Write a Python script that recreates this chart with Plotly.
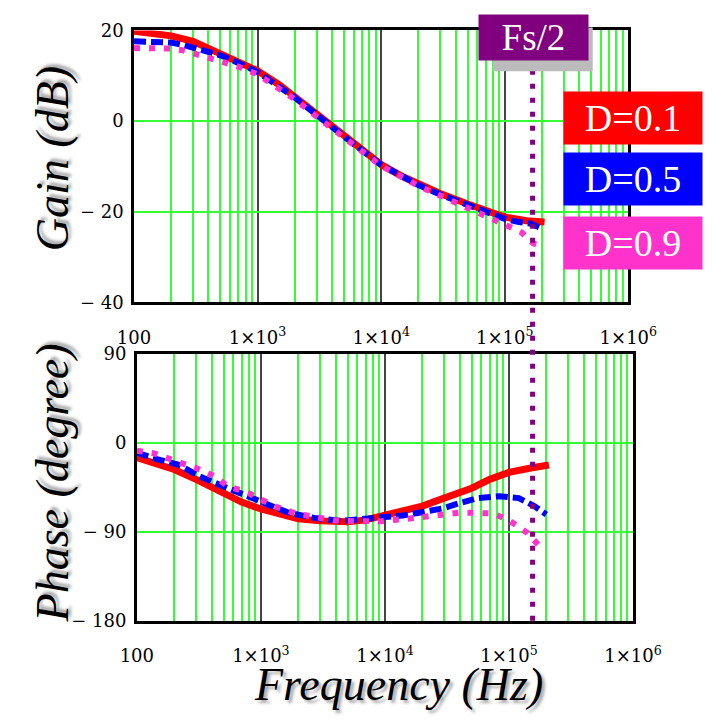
import plotly.graph_objects as go

# ---------------- data ----------------
f_gain_red = [100, 150, 200, 300, 500, 700, 1000, 1500, 2000, 3000, 5000, 7000, 10000,
              15000, 20000, 30000, 50000, 70000, 100000, 150000, 210000]
gain_red = [19.8, 19.4, 18.8, 17.6, 15.0, 13.2, 11.1, 8.0, 5.3, 1.5, -3.3, -6.5, -9.6,
            -12.3, -13.9, -16.0, -18.3, -19.8, -21.2, -22.0, -22.3]

f_gain_blue = [100, 150, 200, 250, 300, 500, 700, 1000, 2000, 3000, 5000, 10000, 20000,
               30000, 50000, 70000, 100000, 130000, 160000, 200000]
gain_blue = [17.6, 17.5, 17.3, 16.8, 16.2, 14.5, 12.8, 10.8, 5.2, 1.3, -3.4, -9.7, -14.1,
             -16.2, -18.6, -20.2, -21.6, -22.3, -22.6, -23.7]

f_gain_mag = [100, 150, 200, 250, 300, 500, 700, 1000, 2000, 3000, 5000, 10000, 20000,
              30000, 50000, 70000, 87000, 117000, 137000, 156000, 170000, 200000]
gain_mag = [16.1, 16.0, 16.0, 15.6, 15.0, 13.2, 12.0, 10.3, 4.8, 1.0, -3.6, -9.9, -14.3,
            -16.4, -19.0, -21.0, -22.2, -23.7, -24.6, -25.9, -27.0, -27.6]

f_ph_red = [100, 150, 200, 300, 500, 700, 1000, 1500, 2000, 3000, 5000, 7000, 10000,
            15000, 20000, 30000, 50000, 70000, 100000, 150000, 210000]
ph_red = [-15, -21, -27, -37, -52, -60, -67, -73, -77, -79, -80, -78, -73,
          -68, -64, -56, -46, -37, -30, -25.5, -22.5]

f_ph_blue = [100, 140, 215, 320, 520, 860, 1280, 1700, 2700, 4400, 8500, 14000, 19400,
             29000, 40000, 56000, 84000, 120000, 160000, 200000]
ph_blue = [-10, -16, -22, -34, -45, -57, -65, -71, -76, -79, -76.5, -73.5, -70.5,
           -66.5, -61, -56, -54, -56, -64, -72.5]

f_ph_mag = [100, 140, 215, 300, 425, 540, 770, 1280, 1900, 3900, 6200, 9100, 16000,
            25000, 41000, 74000, 93000, 117000, 140000, 158000, 186000]
ph_mag = [-8, -11, -19.5, -25.5, -34, -44, -50, -64, -71.5, -78.5, -79.5, -79.5, -76.5,
          -73.5, -70.5, -71.5, -76.5, -84, -91, -98, -107.5]

fs_half = 155000
series_names = ["D=0.1", "D=0.5", "D=0.9"]
series_colors = ["#ff0000", "#0000ff", "#ff33cc"]

x_tickvals = [100, 1000, 10000, 100000, 1000000]
x_ticktext = ["100", "1×10<sup>3</sup>", "1×10<sup>4</sup>", "1×10<sup>5</sup>", "1×10<sup>6</sup>"]
gain_tickvals = [-40, -20, 0, 20]
gain_ticktext = ["− 40", "− 20", "0", "20"]
phase_tickvals = [-180, -90, 0, 90]
phase_ticktext = ["− 180", "− 90", "0", "90"]

# ---------------- figure ----------------
W, H = 721, 723
def px(x):
    return x / W
def py(y):
    return 1 - y / H

dashes = ["solid", "12px,5px", "6px,9px"]
widths = [7, 6, 6]

fig = go.Figure()
gain_sets = [(f_gain_red, gain_red), (f_gain_blue, gain_blue), (f_gain_mag, gain_mag)]
phase_sets = [(f_ph_red, ph_red), (f_ph_blue, ph_blue), (f_ph_mag, ph_mag)]
for i in range(3):
    fx, gy = gain_sets[i]
    fig.add_trace(go.Scatter(x=fx, y=gy, mode="lines", name=series_names[i],
                             line=dict(color=series_colors[i], width=widths[i], dash=dashes[i]),
                             xaxis="x", yaxis="y", showlegend=False))
for i in range(3):
    fx, py_ = phase_sets[i]
    fig.add_trace(go.Scatter(x=fx, y=py_, mode="lines", name=series_names[i],
                             line=dict(color=series_colors[i], width=widths[i], dash=dashes[i]),
                             xaxis="x2", yaxis="y2", showlegend=False))

tickfont = dict(family="DejaVu Serif", size=18, color="black")
green = "#33ff33"

def xaxis_cfg(domain, anchor):
    return dict(type="log", domain=domain, anchor=anchor, range=[2, 6],
                tickvals=x_tickvals, ticktext=x_ticktext, tickfont=tickfont,
                showgrid=True, gridcolor="#444444", gridwidth=2,
                minor=dict(showgrid=True, gridcolor=green, gridwidth=1.5, dtick="D1"),
                showline=True, linecolor="black", linewidth=2.5, mirror=True,
                ticks="", ticklabelstandoff=17, zeroline=False)

def yaxis_cfg(domain, anchor, rng, tv, tt):
    return dict(domain=domain, anchor=anchor, range=rng, tickvals=tv, ticktext=tt,
                tickfont=tickfont, showgrid=True, gridcolor=green, gridwidth=1.5,
                showline=True, linecolor="black", linewidth=2.5, mirror=True,
                ticks="", ticklabelstandoff=4, zeroline=False)

fig.update_layout(
    width=W, height=H, autosize=False, margin=dict(l=0, r=0, t=0, b=0),
    paper_bgcolor="white", plot_bgcolor="white", showlegend=False,
    xaxis=xaxis_cfg([px(125), px(653)], "y"),
    yaxis=yaxis_cfg([py(300), py(20)], "x", [-40, 20], gain_tickvals, gain_ticktext),
    xaxis2=xaxis_cfg([px(128), px(658)], "y2"),
    yaxis2=yaxis_cfg([py(628), py(353)], "x2", [-180, 90], phase_tickvals, phase_ticktext),
)

# Fs/2 marker line
fig.add_shape(type="line", xref="x2", yref="paper", x0=fs_half, x1=fs_half,
              y0=py(628), y1=py(52), layer="above",
              line=dict(color="#800080", width=5, dash="5px,9px"))
# Fs/2 box shadow
fig.add_shape(type="rect", xref="paper", yref="paper", x0=px(508), x1=px(615),
              y0=py(62), y1=py(17), fillcolor="#bbbbbb", line=dict(width=0), layer="above")

serif = "Liberation Serif"
fig.add_annotation(xref="paper", yref="paper", x=px(551.5), y=py(27.5), text="Fs/2",
                   showarrow=False, width=109, height=45, bgcolor="#800080", borderpad=0,
                   font=dict(family=serif, size=37, color="white"), xanchor="center", yanchor="middle")

legend_y = [110.5, 173.5, 238.5]
for i in range(3):
    fig.add_annotation(xref="paper", yref="paper", x=px(583), y=py(legend_y[i]),
                       text=series_names[i], showarrow=False, width=138, height=52,
                       bgcolor=series_colors[i], borderpad=0, xanchor="left", yanchor="middle",
                       font=dict(family=serif, size=38, color="white"))

title_font = dict(family=serif, size=46, color="black", style="italic",
                  shadow="3px 3px 3px #aaaaaa")
fig.add_annotation(xref="paper", yref="paper", x=px(38), y=py(152), text="Gain (dB)",
                   textangle=-90, showarrow=False, font=title_font,
                   xanchor="center", yanchor="middle")
fig.add_annotation(xref="paper", yref="paper", x=px(38), y=py(486), text="Phase (degree)",
                   textangle=-90, showarrow=False, font=title_font,
                   xanchor="center", yanchor="middle")
fig.add_annotation(xref="paper", yref="paper", x=px(408), y=py(694), text="Frequency (Hz)",
                   showarrow=False, font=title_font, xanchor="center", yanchor="middle")

# remove the default page margin so the 721x723 figure fills the window exactly
page_fix = """
document.documentElement.style.margin = '0';
document.documentElement.style.overflow = 'hidden';
document.body.style.margin = '0';
document.body.style.overflow = 'hidden';
"""
fig.write_html("out.html", config={"responsive": False}, post_script=page_fix)
